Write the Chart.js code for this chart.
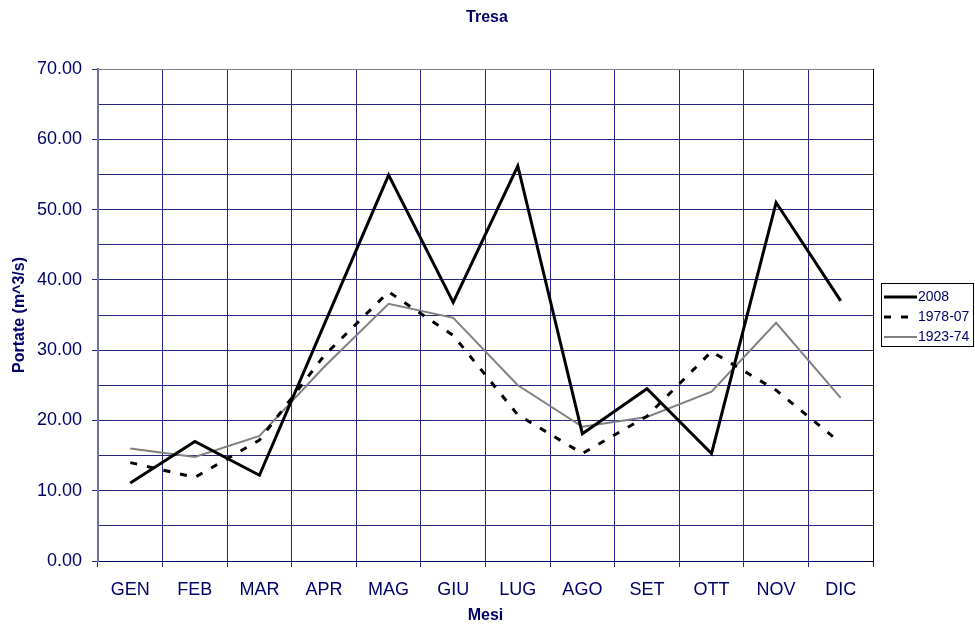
<!DOCTYPE html>
<html>
<head>
<meta charset="utf-8">
<script src="https://cdn.jsdelivr.net/npm/chart.js@4.4.0/dist/chart.umd.min.js"></script>
<style>
	body { margin: 0; background: #fff; }
	#wrap { width: 975px; height: 625px; }
</style>
</head>
<body>
<div id="wrap"><canvas id="mycanvas" width="975" height="625"></canvas></div>
<script>
var months = ['GEN', 'FEB', 'MAR', 'APR', 'MAG', 'GIU', 'LUG', 'AGO', 'SET', 'OTT', 'NOV', 'DIC'];
var s2008 = [11.1, 17.0, 12.2, 33.6, 54.9, 36.8, 56.2, 18.1, 24.5, 15.3, 51.0, 37.0];
var s1978 = [14.0, 11.9, 17.2, 29.2, 38.3, 32.1, 20.8, 15.3, 20.6, 29.8, 24.3, 16.8];
var s1923 = [16.0, 14.8, 17.8, 27.6, 36.6, 34.6, 25.0, 19.1, 20.5, 24.1, 33.9, 23.2];
var seriesNames = ['2008', '1978-07', '1923-74'];

var navy = '#000066';
var gridColor = '#262680';

// title, top/right frame and the legend box
var extras = {
	id: 'extras',
	afterDraw: function(chart) {
		var ctx = chart.ctx;
		var a = chart.chartArea;
		ctx.save();
		ctx.lineWidth = 1;
		ctx.strokeStyle = '#808080';
		ctx.beginPath();
		ctx.moveTo(a.left, a.top + 0.5);
		ctx.lineTo(a.right, a.top + 0.5);
		ctx.stroke();
		ctx.strokeStyle = '#000000';
		ctx.beginPath();
		ctx.moveTo(Math.round(a.right) + 0.5, a.top);
		ctx.lineTo(Math.round(a.right) + 0.5, a.bottom);
		ctx.stroke();

		ctx.fillStyle = navy;
		ctx.font = 'bold 16px "Liberation Sans", Arial, sans-serif';
		ctx.textAlign = 'center';
		ctx.textBaseline = 'middle';
		ctx.fillText('Tresa', 487, 18);

		// legend
		ctx.strokeStyle = '#000000';
		ctx.lineWidth = 1;
		ctx.strokeRect(881.5, 283.5, 92, 63);
		ctx.font = '14px "Liberation Sans", Arial, sans-serif';
		ctx.textAlign = 'left';
		chart.data.datasets.forEach(function(ds, i) {
			var y = 297 + i * 20;
			ctx.strokeStyle = ds.borderColor;
			ctx.lineWidth = ds.borderWidth;
			ctx.setLineDash(ds.borderDash || []);
			ctx.beginPath();
			ctx.moveTo(884, y);
			ctx.lineTo(917, y);
			ctx.stroke();
			ctx.setLineDash([]);
			ctx.fillStyle = navy;
			ctx.fillText(ds.label, 918, y);
		});
		ctx.restore();
	}
};

var ctx = document.getElementById('mycanvas');
var chart = new Chart(ctx, {
	type: 'line',
	data: {
		labels: months,
		datasets: [
			{ label: seriesNames[0], data: s2008, borderColor: '#000000', borderWidth: 3, pointRadius: 0, tension: 0 },
			{ label: seriesNames[1], data: s1978, borderColor: '#000000', borderWidth: 3, borderDash: [7, 10], pointRadius: 0, tension: 0 },
			{ label: seriesNames[2], data: s1923, borderColor: '#808080', borderWidth: 2, pointRadius: 0, tension: 0 }
		]
	},
	options: {
		responsive: false,
		animation: false,
		layout: { padding: { top: 69, right: 102, left: 0, bottom: 0 } },
		plugins: {
			legend: { display: false },
			title: { display: false },
			tooltip: { enabled: false }
		},
		scales: {
			x: {
				offset: true,
				grid: { offset: true, color: gridColor, tickColor: gridColor, tickLength: 6, lineWidth: 1 },
				border: { color: navy, width: 1 },
				ticks: { color: navy, font: { family: '"Liberation Sans", Arial, sans-serif', size: 18 }, padding: 12, maxRotation: 0 },
				title: { display: true, text: 'Mesi', color: navy, font: { family: '"Liberation Sans", Arial, sans-serif', size: 16, weight: 'bold' }, padding: { top: 0, bottom: 0 } },
				afterFit: function(scale) { scale.height = 64; }
			},
			y: {
				min: 0,
				max: 70,
				ticks: {
					stepSize: 5,
					color: navy,
					font: { family: '"Liberation Sans", Arial, sans-serif', size: 18 },
					padding: 10,
					callback: function(v) { return v % 10 === 0 ? v.toFixed(2) : ''; }
				},
				grid: {
					color: gridColor,
					lineWidth: 1,
					tickLength: 6,
					tickColor: function(c) { return c.tick && c.tick.value % 10 === 0 ? gridColor : 'rgba(0,0,0,0)'; }
				},
				border: { color: '#7070a0', width: 2 },
				title: { display: true, text: 'Portate (m^3/s)', color: navy, font: { family: '"Liberation Sans", Arial, sans-serif', size: 16, weight: 'bold' }, padding: { top: 10, bottom: 0 } },
				afterFit: function(scale) { scale.width = 98; }
			}
		}
	},
	plugins: [extras]
});
</script>
</body>
</html>
